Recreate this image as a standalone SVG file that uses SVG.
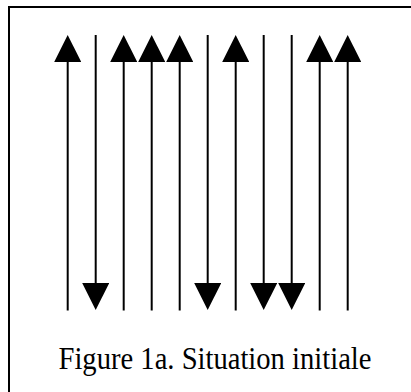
<svg xmlns="http://www.w3.org/2000/svg" width="411" height="392" viewBox="0 0 411 392">
<style>
.ln{stroke:#000;stroke-width:2;fill:none}
.frame{stroke:#000;stroke-width:2;fill:none}
.cap{font-family:"Liberation Serif","Times New Roman",serif;font-size:31px;fill:#000}
</style>
<defs>
<marker id="ah" viewBox="0 0 27 27" refX="0" refY="13.5" markerWidth="27" markerHeight="27" markerUnits="userSpaceOnUse" orient="auto">
<path d="M0,0 L27,13.5 L0,27 z" fill="#000"/>
</marker>
</defs>
<rect width="411" height="392" fill="#fff"/>
<g id="frame"><path class="frame" d="M9,392 V7 H411"/></g>
<g id="connectors" marker-end="url(#ah)">
<line class="ln" x1="67.7" y1="310.5" x2="67.7" y2="62"/>
<line class="ln" x1="95.7" y1="35" x2="95.7" y2="283"/>
<line class="ln" x1="123.7" y1="310.5" x2="123.7" y2="62"/>
<line class="ln" x1="151.7" y1="310.5" x2="151.7" y2="62"/>
<line class="ln" x1="179.7" y1="310.5" x2="179.7" y2="62"/>
<line class="ln" x1="207.7" y1="35" x2="207.7" y2="283"/>
<line class="ln" x1="235.7" y1="310.5" x2="235.7" y2="62"/>
<line class="ln" x1="263.7" y1="35" x2="263.7" y2="283"/>
<line class="ln" x1="291.7" y1="35" x2="291.7" y2="283"/>
<line class="ln" x1="319.7" y1="310.5" x2="319.7" y2="62"/>
<line class="ln" x1="347.7" y1="310.5" x2="347.7" y2="62"/>
</g>
<g id="caption"><text class="cap" x="215" y="369" text-anchor="middle" textLength="313" lengthAdjust="spacingAndGlyphs">Figure 1a. Situation initiale</text></g>
</svg>
